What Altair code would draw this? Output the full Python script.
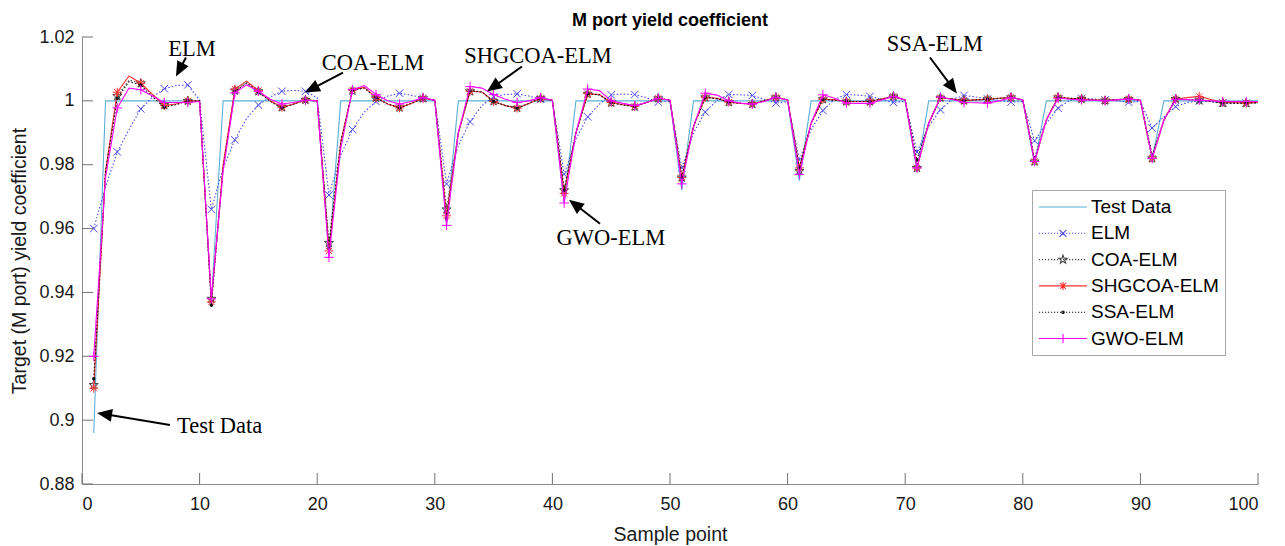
import math
import altair as alt
import pandas as pd

# ---------------- data ----------------
sample_x = list(range(1, 101))
test_dips = [0.896, 0.937, 0.952, 0.962, 0.968, 0.972, 0.975, 0.978, 0.980, 0.982]

elm = [
    0.9600, 0.9730, 0.9840, 0.9910, 0.9975, 1.0012, 1.0038, 1.0048, 1.0050, 1.0002,
    0.9660, 0.9790, 0.9878, 0.9945, 0.9987, 1.0012, 1.0030, 1.0033, 1.0030, 1.0010,
    0.9705, 0.9830, 0.9910, 0.9965, 0.9998, 1.0015, 1.0024, 1.0018, 1.0008, 1.0002,
    0.9740, 0.9860, 0.9935, 0.9985, 1.0013, 1.0020, 1.0022, 1.0015, 1.0005, 1.0000,
    0.9770, 0.9880, 0.9950, 0.9990, 1.0019, 1.0021, 1.0020, 1.0010, 0.9996, 0.9998,
    0.9790, 0.9900, 0.9965, 1.0002, 1.0020, 1.0019, 1.0017, 1.0005, 0.9993, 0.9997,
    0.9815, 0.9910, 0.9970, 1.0005, 1.0020, 1.0018, 1.0014, 1.0005, 0.9995, 0.9998,
    0.9840, 0.9920, 0.9972, 1.0005, 1.0017, 1.0012, 1.0006, 1.0001, 0.9996, 0.9998,
    0.9875, 0.9930, 0.9977, 1.0002, 1.0008, 1.0006, 1.0003, 1.0000, 0.9996, 0.9998,
    0.9915, 0.9950, 0.9982, 0.9995, 1.0000, 0.9998, 0.9993, 0.9993, 0.9993, 0.9994,
]
coa = [
    0.9110, 0.9770, 1.0015, 1.0065, 1.0055, 1.0018, 0.9987, 0.9990, 1.0000, 1.0000,
    0.9380, 0.9790, 1.0032, 1.0058, 1.0030, 1.0000, 0.9980, 0.9990, 1.0003, 1.0000,
    0.9555, 0.9870, 1.0032, 1.0042, 1.0010, 0.9990, 0.9979, 0.9992, 1.0008, 1.0002,
    0.9660, 0.9900, 1.0030, 1.0028, 0.9999, 0.9986, 0.9978, 0.9992, 1.0008, 1.0002,
    0.9720, 0.9900, 1.0022, 1.0018, 0.9994, 0.9987, 0.9982, 0.9995, 1.0008, 1.0002,
    0.9760, 0.9920, 1.0011, 1.0006, 0.9996, 0.9992, 0.9990, 1.0000, 1.0011, 1.0003,
    0.9780, 0.9930, 1.0005, 1.0002, 0.9998, 0.9998, 0.9998, 1.0006, 1.0014, 1.0003,
    0.9790, 0.9930, 1.0010, 1.0006, 1.0001, 1.0003, 1.0005, 1.0008, 1.0011, 1.0003,
    0.9810, 0.9940, 1.0011, 1.0008, 1.0006, 1.0003, 1.0001, 1.0004, 1.0006, 1.0002,
    0.9820, 0.9940, 1.0006, 1.0004, 1.0002, 0.9998, 0.9993, 0.9993, 0.9993, 0.9994,
]
shgcoa = [
    0.9100, 0.9780, 1.0027, 1.0078, 1.0055, 1.0020, 0.9985, 0.9990, 1.0000, 1.0000,
    0.9370, 0.9800, 1.0037, 1.0062, 1.0032, 1.0000, 0.9980, 0.9990, 1.0003, 1.0000,
    0.9530, 0.9870, 1.0034, 1.0042, 1.0010, 0.9990, 0.9978, 0.9992, 1.0008, 1.0002,
    0.9640, 0.9900, 1.0030, 1.0028, 0.9998, 0.9985, 0.9977, 0.9992, 1.0008, 1.0002,
    0.9710, 0.9900, 1.0022, 1.0020, 0.9995, 0.9988, 0.9983, 0.9995, 1.0008, 1.0002,
    0.9760, 0.9920, 1.0011, 1.0008, 0.9996, 0.9992, 0.9990, 1.0000, 1.0011, 1.0003,
    0.9790, 0.9930, 1.0005, 1.0003, 0.9998, 0.9998, 0.9998, 1.0006, 1.0014, 1.0003,
    0.9790, 0.9930, 1.0010, 1.0006, 1.0001, 1.0003, 1.0005, 1.0008, 1.0011, 1.0003,
    0.9810, 0.9940, 1.0011, 1.0008, 1.0006, 1.0003, 1.0001, 1.0004, 1.0006, 1.0002,
    0.9820, 0.9940, 1.0006, 1.0010, 1.0014, 1.0004, 0.9995, 0.9995, 0.9993, 0.9996,
]
ssa = [
    0.9130, 0.9780, 1.0008, 1.0060, 1.0050, 1.0012, 0.9980, 0.9988, 1.0000, 1.0000,
    0.9360, 0.9790, 1.0030, 1.0055, 1.0028, 0.9998, 0.9978, 0.9990, 1.0003, 1.0000,
    0.9540, 0.9870, 1.0033, 1.0040, 1.0010, 0.9990, 0.9978, 0.9992, 1.0008, 1.0002,
    0.9630, 0.9900, 1.0032, 1.0028, 0.9998, 0.9985, 0.9977, 0.9992, 1.0008, 1.0002,
    0.9720, 0.9900, 1.0022, 1.0020, 0.9994, 0.9987, 0.9982, 0.9995, 1.0008, 1.0002,
    0.9760, 0.9920, 1.0011, 1.0007, 0.9996, 0.9992, 0.9990, 1.0000, 1.0011, 1.0003,
    0.9790, 0.9930, 1.0005, 1.0002, 0.9998, 0.9998, 0.9998, 1.0006, 1.0014, 1.0003,
    0.9815, 0.9930, 1.0010, 1.0006, 1.0001, 1.0003, 1.0005, 1.0008, 1.0011, 1.0003,
    0.9820, 0.9940, 1.0011, 1.0008, 1.0006, 1.0003, 1.0001, 1.0004, 1.0006, 1.0002,
    0.9830, 0.9940, 1.0006, 1.0004, 1.0002, 0.9998, 0.9993, 0.9993, 0.9993, 0.9994,
]
gwo = [
    0.9200, 0.9760, 0.9978, 1.0040, 1.0035, 1.0015, 0.9995, 0.9995, 0.9995, 0.9998,
    0.9380, 0.9780, 1.0025, 1.0050, 1.0030, 1.0005, 0.9990, 0.9995, 1.0002, 1.0000,
    0.9510, 0.9850, 1.0035, 1.0048, 1.0020, 1.0000, 0.9990, 0.9998, 1.0010, 1.0002,
    0.9610, 0.9900, 1.0045, 1.0040, 1.0020, 1.0005, 0.9995, 1.0000, 1.0010, 1.0002,
    0.9680, 0.9900, 1.0037, 1.0032, 1.0000, 0.9992, 0.9985, 0.9995, 1.0008, 1.0002,
    0.9740, 0.9920, 1.0024, 1.0018, 1.0000, 0.9993, 0.9990, 0.9998, 1.0011, 1.0003,
    0.9770, 0.9930, 1.0019, 1.0008, 0.9993, 0.9992, 0.9992, 1.0003, 1.0014, 1.0003,
    0.9790, 0.9930, 1.0012, 1.0004, 0.9995, 0.9994, 0.9993, 1.0000, 1.0010, 1.0003,
    0.9810, 0.9940, 1.0008, 1.0005, 1.0003, 1.0002, 1.0000, 1.0003, 1.0006, 1.0002,
    0.9820, 0.9940, 1.0005, 1.0004, 1.0002, 1.0000, 0.9998, 0.9998, 0.9998, 0.9998,
]
test_data = [test_dips[(i - 1) // 10] if (i - 1) % 10 == 0 else 1.0 for i in sample_x]

series_names = ["Test Data", "ELM", "COA-ELM", "SHGCOA-ELM", "SSA-ELM", "GWO-ELM"]
series_values = [test_data, elm, coa, shgcoa, ssa, gwo]
series_colors = ["#5AB0D6", "#4848EE", "#444444", "#FF3030", "#111111", "#FF00FF"]
series_dashed = [False, True, True, False, True, False]

x_ticks = list(range(0, 101, 10))
y_ticks = [0.88, 0.90, 0.92, 0.94, 0.96, 0.98, 1.00, 1.02]

# annotations (data coordinates)
ann_labels = ["ELM", "COA-ELM", "SHGCOA-ELM", "GWO-ELM", "SSA-ELM", "Test Data"]
ann_text_x = [9.35, 24.74, 38.78, 44.98, 72.53, 8.08]
ann_text_y = [1.0142, 1.0098, 1.0120, 0.9549, 1.0155, 0.8960]
arrow_tail_x = [8.84, 22.19, 37.41, 44.05, 72.11, 7.48]
arrow_tail_y = [1.01358, 1.00887, 1.01075, 0.96152, 1.01358, 0.89849]
arrow_tip_x = [7.99, 18.96, 34.44, 41.41, 74.40, 1.28]
arrow_tip_y = [1.00762, 1.00260, 1.00292, 0.96905, 1.00229, 0.90226]

# ---------------- layout ----------------
W, H = 1176, 447
XMIN, XMAX = 0, 100
YMIN, YMAX = 0.88, 1.02
PX = W / (XMAX - XMIN)
PY = H / (YMAX - YMIN)

AX_FONT = "Liberation Sans"

X = alt.X(
    "x:Q",
    scale=alt.Scale(domain=[XMIN, XMAX], nice=False, zero=False),
    axis=alt.Axis(values=x_ticks, format="d", labelPadding=11, titlePadding=12),
    title="Sample point",
)
Y = alt.Y(
    "y:Q",
    scale=alt.Scale(domain=[YMIN, YMAX], nice=False, zero=False),
    axis=alt.Axis(values=y_ticks, format=".2~f", labelPadding=8, titlePadding=9),
    title="Target (M port) yield coefficient",
)


# ---------------- marker paths ----------------
def xmark(s):
    return f"M{-s},{-s}L{s},{s}M{-s},{s}L{s},{-s}"


def plus(s):
    return f"M0,{-s}V{s}M{-s},0H{s}"


def aster(s):
    return plus(s) + xmark(round(0.7 * s, 3))


def star(s):
    pts = []
    for i in range(10):
        a = math.radians(-90 + 36 * i)
        r = s if i % 2 == 0 else s * 0.4
        pts.append(f"{r * math.cos(a):.3f},{r * math.sin(a):.3f}")
    return "M" + "L".join(pts) + "Z"


def dot(s):
    return f"M{s},0A{s},{s},0,1,1,{-s},0A{s},{s},0,1,1,{s},0Z"


def dotted(x0, x1, step=0.3, seg=0.12):
    parts = []
    t = x0
    while t < x1:
        parts.append(f"M{t:.2f},0h{seg}")
        t += step
    return "".join(parts)


solid_line = "M-2.4,0H2.4"
dot_line = dotted(-2.4, 2.4)
legend_paths = [
    solid_line,
    dot_line + xmark(0.35),
    dot_line + star(0.45),
    solid_line + aster(0.42),
    dot_line + dot(0.12),
    solid_line + plus(0.45),
]

marker_specs = [
    None,
    dict(shape=xmark(1), size=56, filled=False),
    dict(shape=star(1), size=90, filled=False),
    dict(shape=aster(1), size=81, filled=False),
    dict(shape="circle", size=12, filled=True),
    dict(shape=plus(1), size=90, filled=False),
]

layers = []

# inward ticks
ytick_df = pd.DataFrame({"y": y_ticks})
xtick_df = pd.DataFrame({"x": x_ticks})
layers.append(
    alt.Chart(ytick_df).mark_rule(color="#707070", strokeWidth=1).encode(
        y=Y, x=alt.value(0), x2=alt.value(11)
    )
)
layers.append(
    alt.Chart(xtick_df).mark_rule(color="#707070", strokeWidth=1).encode(
        x=X, y=alt.value(H), y2=alt.value(H - 11)
    )
)

for name, vals, col, dashed, mk in zip(
    series_names, series_values, series_colors, series_dashed, marker_specs
):
    df = pd.DataFrame({"x": sample_x, "y": vals})
    line_kwargs = dict(color=col, strokeWidth=1.1, clip=True)
    if dashed:
        line_kwargs["strokeDash"] = [1.5, 2]
    layers.append(alt.Chart(df).mark_line(**line_kwargs).encode(x=X, y=Y))
    if mk is not None:
        dfm = df[df["x"] % 2 == 1]
        layers.append(
            alt.Chart(dfm)
            .mark_point(
                shape=mk["shape"],
                size=mk["size"],
                filled=mk["filled"],
                color=col,
                opacity=1,
                strokeWidth=1,
            )
            .encode(x=X, y=Y)
        )

# legend (from a ghost layer)
legend_df = pd.DataFrame({"series": series_names})
leg = alt.Legend(
    title=None,
    orient="none",
    legendX=950,
    legendY=153,
    symbolSize=400,
    symbolStrokeWidth=1.1,
    symbolOffset=14,
    symbolOpacity=1,
    labelOffset=17,
    labelFont=AX_FONT,
    labelFontSize=19,
    labelColor="black",
    labelLimit=400,
    strokeColor="#a6a6a6",
    fillColor="white",
    padding=6,
    rowPadding=5.3,
)
layers.append(
    alt.Chart(legend_df)
    .mark_point(opacity=0, size=400, filled=False)
    .encode(
        color=alt.Color(
            "series:N",
            scale=alt.Scale(domain=series_names, range=series_colors),
            legend=leg,
            sort=series_names,
        ),
        shape=alt.Shape(
            "series:N",
            scale=alt.Scale(domain=series_names, range=legend_paths),
            legend=leg,
            sort=series_names,
        ),
    )
)

# annotations: arrows + text
rows = []
for lab, tx, ty, ax0, ay0, ax1, ay1 in zip(
    ann_labels, ann_text_x, ann_text_y, arrow_tail_x, arrow_tail_y, arrow_tip_x, arrow_tip_y
):
    dxp = (ax1 - ax0) * PX
    dyp = -(ay1 - ay0) * PY
    ang = math.degrees(math.atan2(dyp, dxp)) % 360
    L = math.hypot(dxp, dyp)
    f = max(0.0, (L - 10) / L)
    rows.append(
        dict(
            label=lab,
            tx=tx,
            ty=ty,
            x=ax0,
            y=ay0,
            x2=ax0 + (ax1 - ax0) * f,
            y2=ay0 + (ay1 - ay0) * f,
            hx=ax1,
            hy=ay1,
            ang=ang,
        )
    )
ann_df = pd.DataFrame(rows)

layers.append(
    alt.Chart(ann_df)
    .mark_rule(color="black", strokeWidth=2)
    .encode(x=X, y=Y, x2="x2:Q", y2="y2:Q")
)
head_df = ann_df[["hx", "hy", "ang"]].rename(columns={"hx": "x", "hy": "y"})
layers.append(
    alt.Chart(head_df)
    .mark_point(shape="M0,0L-2,-0.85L-2,0.85Z", size=225, filled=True, color="black",
                opacity=1, strokeWidth=0)
    .encode(x=X, y=Y, angle=alt.Angle("ang:Q", scale=None))
)
txt_df = ann_df[["label", "tx", "ty"]].rename(columns={"tx": "x", "ty": "y"})
layers.append(
    alt.Chart(txt_df[txt_df["label"] != "Test Data"])
    .mark_text(font="Liberation Serif", fontSize=22.5, baseline="alphabetic",
               align="center", color="black")
    .encode(x=X, y=Y, text="label:N")
)
layers.append(
    alt.Chart(txt_df[txt_df["label"] == "Test Data"])
    .mark_text(font="Liberation Serif", fontSize=22.5, baseline="alphabetic",
               align="left", color="black")
    .encode(x=X, y=Y, text="label:N")
)

chart = (
    alt.layer(*layers)
    .properties(
        width=W,
        height=H,
        title=alt.TitleParams(
            "M port yield coefficient",
            font=AX_FONT,
            fontSize=18,
            fontWeight="bold",
            anchor="middle",
            offset=-2,
            color="black",
        ),
        padding={"left": 82, "top": 37, "right": 27, "bottom": 62},
        autosize=alt.AutoSizeParams(type="none"),
        background="white",
    )
    .configure_view(stroke=None)
    .configure_axis(
        ticks=False,
        tickSize=0,
        grid=False,
        domainColor="#8a8a8a",
        domainWidth=1,
        labelFont=AX_FONT,
        labelFontSize=18,
        labelColor="#1a1a1a",
        titleFont=AX_FONT,
        titleFontSize=19.5,
        titleFontWeight="normal",
        titleColor="#1a1a1a",
    )
)

chart.save("out.html", embed_options={"renderer": "svg", "actions": False})
